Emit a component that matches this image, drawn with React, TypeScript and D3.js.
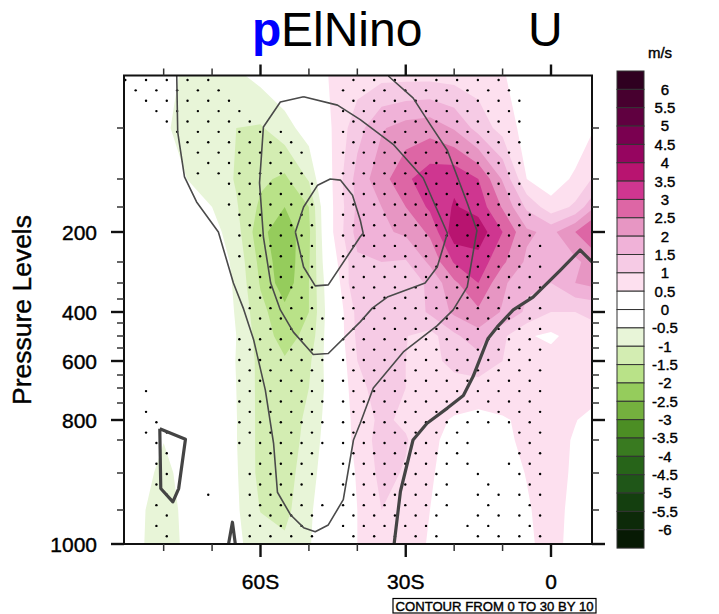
import React from "react";
import * as d3 from "d3";

// ---------- data ----------
const lats = [-90,-85,-80,-75,-70,-65,-60,-55,-50,-45,-40,-35,-30,-25,-20,-15,-10,-5,0,5,10];
const levels = [0,50,100,150,200,250,300,400,500,600,700,800,850,900,950,1000];
const anomaly = [
 [0,.1,-.3,-.62,-.7,-.6,-.35,-.1,.3,.55,.75,.85,.85,.85,.8,.75,.55,.2,.05,0,0],
 [0,.1,-.4,-.75,-.85,-1,-1.05,-.7,-.25,.55,1.3,1.95,2.2,2.3,1.95,1.3,.8,.3,0,.1,.6],
 [0,.1,0,-.52,-.65,-1.05,-1.4,-1.6,-.95,.55,1.7,2.3,2.9,3.3,3.4,3.0,1.95,.5,.2,.6,1.2],
 [0,0,0,-.1,-.5,-.95,-1.6,-2.0,-1.5,.5,1.6,2.0,2.5,3.1,3.55,3.3,2.45,1.4,.7,1.1,2.2],
 [0,0,0,-.05,-.3,-.8,-1.85,-2.35,-1.6,.5,1.7,1.9,2.1,2.6,3.8,3.8,3.0,2.1,1.85,2.5,3.3],
 [0,0,0,0,-.1,-.65,-1.65,-2.35,-1.55,.3,1.4,1.5,1.45,2.1,3.05,3.3,2.6,1.9,1.6,1.9,2.3],
 [0,0,0,0,-.05,-.6,-1.55,-2.3,-1.5,.1,1.5,1.35,1.2,1.6,2.4,3.0,2.1,1.6,1.5,2.0,2.2],
 [0,0,0,0,0,-.55,-1.35,-1.85,-1.5,0,1.15,1.2,1.05,1.6,2.1,2.4,1.95,1.4,1.0,1.0,1.1],
 [0,0,0,0,0,-.5,-1.25,-1.7,-1.35,0,1.1,1.1,1.02,.8,1.4,1.8,1.1,.55,.4,.7,.9],
 [0,0,0,0,0,-.52,-1.15,-1.45,-1.1,-.1,1.0,1.1,1.0,.85,1.15,1.3,1.0,.8,.7,.7,.75],
 [0,0,0,0,0,-.5,-1.15,-1.3,-1.0,-.2,.9,1.15,1.0,.85,.8,.8,.8,.75,.7,.7,.65],
 [0,0,0,0,0,-.48,-1.15,-1.25,-.9,-.15,.75,1.1,.9,.65,.45,.35,.45,.6,.65,.52,.3],
 [0,0,-.48,0,0,-.48,-1.15,-1.25,-.85,-.1,.7,1.2,1.05,.6,.35,.3,.4,.6,.7,.45,.25],
 [0,-.2,-.7,-.2,0,-.45,-1.15,-1.2,-.75,0,.55,1.15,.95,.55,.3,.25,.3,.52,.75,.4,.2],
 [0,-.4,-.8,-.3,0,-.42,-1.02,-1.15,-.6,0,.5,1.0,.8,.5,.25,.2,.2,.45,.7,.35,.1],
 [0,-.45,-.7,-.4,0,-.4,-.75,-.9,-.55,0,.5,.9,.75,.45,.2,.15,.2,.4,.7,.3,.1],
];

// climatological wind contours as [lat, pressure]
const contourThin10: [number, number][] = [[-77.3,0],[-77.1,54],[-75.7,98],[-73.2,141],[-68.7,200],[-65.6,300],[-63.5,388],[-61.4,517],[-59,707],[-57.3,855],[-56.5,926],[-53.8,957],[-51.1,976],[-48.7,982],[-46,972],[-42.9,936],[-40.8,850],[-39.4,808],[-36.7,700],[-30.5,565],[-23.5,460],[-20.2,392],[-17.3,312],[-15.3,197],[-17.3,143],[-21.4,72],[-24.9,47],[-28.5,21],[-33.6,0]];
const contourThin20: [number, number][] = [[-51.1,20],[-44.1,28],[-39.4,42],[-32.6,66],[-26.4,99],[-21.4,202],[-23.5,262],[-26,300],[-33.8,344],[-36.9,385],[-39.4,445],[-46,571],[-49.1,575],[-53.2,485],[-55.9,392],[-57.9,300],[-59.4,208],[-60.2,107],[-59.4,49],[-55.9,25],[-51.1,20]];
const contourThin30: [number, number][] = [[-52.8,200],[-51.1,150],[-48.2,111],[-45.6,100],[-43.5,102],[-41,129],[-39.4,176],[-38.8,202],[-39.4,208],[-46,306],[-48.7,309],[-51.1,262],[-52.8,200]];
const contourZero: [number, number][] = [[-32.4,1000],[-31.1,925],[-28.5,850],[-25.6,808],[-21.4,765],[-18.1,725],[-16.1,656],[-13,510],[-11.1,465],[-7.8,392],[-3.7,344],[1.9,270],[6,230],[8.5,250]];
const contourZeroLoop: [number, number][] = [[-80.8,822],[-75.5,848],[-76.9,921],[-78.1,939],[-80.6,921],[-80.8,822]];
const contourZeroSpike: [number, number][] = [[-66.6,1000],[-65.8,968],[-65.2,1000]];

// significance stipple: index ranges of the staggered dot lattice, one list per row
const stippleRows: [number, number][][] = [
 [[0,8],[22,36]],[[1,9],[21,37]],[[2,10],[22,38]],[[3,11],[21,37]],[[4,12],[22,38]],
 [[5,15],[21,37]],[[6,16],[22,38]],[[7,17],[21,37]],[[8,16],[22,38]],[[7,17],[21,37]],
 [[10,18],[22,38]],[[11,17],[21,37]],[[10,18],[22,38]],[[11,17],[21,39]],[[12,18],[22,38]],
 [[11,17],[21,39]],[[12,18],[22,40]],[[11,17],[21,39]],[[12,18],[22,40]],[[13,17],[21,39]],
 [[12,18],[22,40]],[[13,17],[21,39]],[[12,18],[22,40]],[[13,19],[21,39]],[[14,18],[22,40]],
 [[11,19],[21,39]],[[12,18],[22,40]],[[11,19],[21,39]],[[12,18],[22,40]],[[11,19],[21,39]],
 [[2,2],[12,18],[22,40]],[[11,19],[21,39]],[[2,2],[12,18],[22,40]],[[3,3],[11,19],[21,39]],
 [[2,4],[12,18],[22,32],[38,40]],[[3,3],[11,19],[21,33],[39,39]],[[4,4],[14,18],[22,32],[38,40]],
 [[3,3],[13,17],[21,33],[37,39]],[[4,4],[12,18],[22,30],[34,34],[38,40]],[[3,3],[13,17],[21,31],[35,35],[39,39]],
 [[4,4],[8,8],[12,16],[22,30],[34,40]],[[3,3],[13,19],[21,31],[35,35],[39,39]],[[4,4],[12,18],[22,30],[34,40]],
 [[3,3],[13,17],[21,29],[33,35],[39,39]],[[4,4],[12,18],[22,30],[34,40]],
];

const colorLabels = ["6","5.5","5","4.5","4","3.5","3","2.5","2","1.5","1","0.5","0","-0.5","-1","-1.5","-2","-2.5","-3","-3.5","-4","-4.5","-5","-5.5","-6"];
const colorSwatches = ["#2f0020","#47002f","#600040","#7a0050","#960560","#b81470","#cf3690","#dd66a5","#e796c3","#f0b2d8","#f6cbe5","#fde0ef","#ffffff","#ffffff","#e8f5d8","#d3edb2","#b9e288","#95cc5c","#74b03e","#4c8e24","#397a20","#276419","#1f5618","#143f0f","#0d2a09","#071a04"];
const posThresholds = [0.5,1,1.5,2,2.5,3,3.5,4,4.5,5,5.5,6];
const negThresholds = [0.5,1,1.5,2,2.5,3,3.5,4,4.5,5,5.5,6];
const posColors = ["#fde0ef","#f6cbe5","#f0b2d8","#e796c3","#dd66a5","#cf3690","#b81470","#960560","#7a0050","#600040","#47002f","#2f0020"];
const negColors = ["#e8f5d8","#d3edb2","#b9e288","#95cc5c","#74b03e","#4c8e24","#397a20","#276419","#1f5618","#143f0f","#0d2a09","#071a04"];

const majorLats = [-60,-30,0];
const majorLatLabels = ["60S","30S","0"];
const minorLats = [-80,-70,-50,-40,-20,-10];
const majorP = [200,400,600,800,1000];
const minorP = [50,100,150,250,300,350,450,500,550,650,700,750,850,900,950];
const axisP = [0,50,100,150,200,250,300,350,400,450,500,550,600,650,700,750,800,850,900,950,1000];
const axisPPixels = [76,128,179,207,232,262,283,299,312,323,336,348,361,375,388,403,420,440,473,510,544];

// ---------- layout ----------
const L = 124, R = 592, T = 75.5, B = 544;
const x = d3.scaleLinear().domain([-60, 0]).range([260.5, 551]);
const y = d3.scaleLinear().domain(axisP).range(axisPPixels);
const rowY = d3.scaleLinear().domain(levels.map((_, i) => i)).range(levels.map((p) => y(p)));
const colX = d3.scaleLinear().domain([0, lats.length - 1]).range([x(lats[0]), x(lats[lats.length - 1])]);

const flat = anomaly.flat();
const contourGen = d3.contours().size([lats.length, levels.length]).smooth(true);
function ringPath(mp: any) {
  const clampX = (v: number) => Math.max(0, Math.min(lats.length - 1, v - 0.5));
  const clampY = (v: number) => Math.max(0, Math.min(levels.length - 1, v - 0.5));
  return mp.coordinates
    .map((poly: any) =>
      poly.map((ring: any) =>
        "M" + ring.map((p: number[]) => `${colX(clampX(p[0])).toFixed(2)},${rowY(clampY(p[1])).toFixed(2)}`).join("L") + "Z"
      ).join("")
    ).join("");
}
const posBands = contourGen.thresholds(posThresholds)(flat);
const negBands = contourGen.thresholds(negThresholds)(flat.map((v) => -v));

const lineGen = d3.line<[number, number]>().x((d) => x(d[0])).y((d) => y(d[1]));

const dots: [number, number][] = [];
stippleRows.forEach((ranges, j) => {
  ranges.forEach(([a, b]) => {
    for (let k = a; k <= b; k += 2) dots.push([125.3 + 10.37 * k, 80 + 10.37 * j]);
  });
});

const FONT = "'Liberation Sans', Arial, sans-serif";
const barTop = 71, barStep = 18.35, barX = 617, barW = 27;
const MAJ = 13, MIN = 7;
const heavy = { stroke: "#000", strokeWidth: 0.4 };

export default function App() {
  return (
    <svg width={719} height={614} style={{ position: "absolute", left: 0, top: 0, background: "#fff" }} fontFamily={FONT}>
      <defs>
        <clipPath id="plot"><rect x={L} y={T} width={R - L} height={B - T} /></clipPath>
      </defs>
      <g clipPath="url(#plot)">
        {posBands.map((b: any, i: number) => <path key={"p" + i} d={ringPath(b)} fill={posColors[i]} fillRule="evenodd" />)}
        {negBands.map((b: any, i: number) => <path key={"n" + i} d={ringPath(b)} fill={negColors[i]} fillRule="evenodd" />)}
        {dots.map((d, i) => <circle key={i} cx={d[0]} cy={d[1]} r={1.2} fill="#000" />)}
        {[contourThin10, contourThin20, contourThin30].map((c, i) => (
          <path key={i} d={lineGen(c) as string} fill="none" stroke="#4a4a4a" strokeWidth={1.6} strokeLinejoin="round" />
        ))}
        {[contourZero, contourZeroLoop, contourZeroSpike].map((c, i) => (
          <path key={i} d={lineGen(c) as string} fill="none" stroke="#444" strokeWidth={3.2} strokeLinejoin="round" />
        ))}
      </g>
      <rect x={L} y={T} width={R - L} height={B - T} fill="none" stroke="#111" strokeWidth={2} />
      {/* ticks */}
      <g stroke="#111" strokeWidth={2.4}>
        {majorLats.map((v) => (
          <g key={v}>
            <line x1={x(v)} x2={x(v)} y1={B} y2={B + MAJ} />
            <line x1={x(v)} x2={x(v)} y1={T} y2={T - MAJ + 2} />
          </g>
        ))}
        {majorP.map((v) => (
          <g key={v}>
            <line x1={L} x2={L - MAJ} y1={y(v)} y2={y(v)} />
            <line x1={R} x2={R + MAJ} y1={y(v)} y2={y(v)} />
          </g>
        ))}
      </g>
      <g stroke="#333" strokeWidth={1.5}>
        {minorLats.map((v) => (
          <g key={v}>
            <line x1={x(v)} x2={x(v)} y1={B} y2={B + MIN} />
            <line x1={x(v)} x2={x(v)} y1={T} y2={T - MIN} />
          </g>
        ))}
        {minorP.map((v) => (
          <g key={v}>
            <line x1={L} x2={L - MIN} y1={y(v)} y2={y(v)} />
            <line x1={R} x2={R + MIN} y1={y(v)} y2={y(v)} />
          </g>
        ))}
      </g>
      {majorP.map((v) => (
        <text key={v} x={97} y={y(v)} dy="0.37em" textAnchor="end" fontSize={21} fill="#000" {...heavy}>{v}</text>
      ))}
      {majorLats.map((v, i) => (
        <text key={v} x={x(v)} y={589} textAnchor="middle" fontSize={21} fill="#000" {...heavy}>{majorLatLabels[i]}</text>
      ))}
      <text transform="translate(31,310) rotate(-90)" textAnchor="middle" fontSize={26.5} fill="#000" {...heavy}>Pressure Levels</text>
      {/* titles */}
      <text x={252} y={46} fontSize={48} fontWeight="bold" fill="#0000ff">p</text>
      <text x={281} y={46} fontSize={48} fill="#000">ElNino</text>
      <text x={528} y={46} fontSize={48} fill="#000">U</text>
      {/* colour bar */}
      <text x={660} y={58} textAnchor="middle" fontSize={15} fill="#000" {...heavy}>m/s</text>
      {colorSwatches.map((c, i) => (
        <rect key={i} x={barX} y={barTop + i * barStep} width={barW} height={barStep} fill={c} stroke="#333" strokeWidth={1} />
      ))}
      {colorLabels.map((l, i) => (
        <text key={l} x={665} y={barTop + (i + 1) * barStep} dy="0.36em" textAnchor="middle" fontSize={15} fill="#000" {...heavy}>{l}</text>
      ))}
      {/* info box */}
      <rect x={393} y={598.5} width={203} height={14.5} fill="#fff" stroke="#000" strokeWidth={1.2} />
      <text x={395.5} y={611} fontSize={13} textLength={198} lengthAdjust="spacingAndGlyphs" fill="#000" {...heavy}>CONTOUR FROM 0 TO 30 BY 10</text>
    </svg>
  );
}
